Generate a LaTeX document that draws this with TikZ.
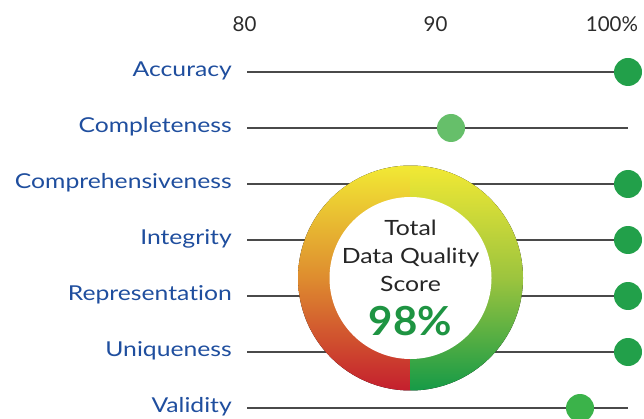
\documentclass[tikz,border=0pt]{standalone}
\usepackage{fontspec}
\setmainfont{Lato}[FakeStretch=1.205, Ligatures=NoCommon]
\newfontfamily\tickfont{Lato}[Ligatures=NoCommon]
\newfontfamily\titlefont{Lato}[FakeStretch=1.18, Ligatures=NoCommon]
\newfontfamily\pctfont{Lato}[FakeStretch=1.05]
\usetikzlibrary{calc}
\definecolor{lblblue}{HTML}{1F4E9E}
\definecolor{axisgray}{HTML}{2B2B2B}
\definecolor{linegray}{HTML}{4A4A4A}
\definecolor{dotdark}{HTML}{22A04A}
\definecolor{dotlight}{HTML}{66BF6A}
\definecolor{dotmid}{HTML}{3BB34A}
\definecolor{ryellow}{HTML}{F2E934}
\definecolor{rred}{HTML}{C41E2E}
\definecolor{rgreen}{HTML}{159A47}
\definecolor{rorange}{HTML}{DE8C2F}
\definecolor{rlime}{HTML}{9CC43E}
\definecolor{pctgreen}{HTML}{1E9442}
\definecolor{txtgray}{HTML}{262626}
\tikzset{
  lbl/.style={anchor=east, text=lblblue, font=\fontsize{20.5}{22}\selectfont, inner sep=0pt},
  tick/.style={text=axisgray, font=\tickfont\fontsize{20.5}{22}\selectfont, inner sep=0pt},
  track/.style={draw=linegray, line width=1.8pt},
  dot/.style={circle, minimum size=28pt, inner sep=0pt},
}
\begin{document}
\begin{tikzpicture}[x=1pt,y=-1pt]
\useasboundingbox (0,0) rectangle (644,419);
% axis labels
\node[tick] (t80) at (244.5,24.5) {80};
\node[tick] (t90) at (435.5,24.5) {90};
\node[tick] (t100) at (612,24.5) {100\%};
% rows
\foreach \name/\txt/\y in {acc/Accuracy/72, com/Completeness/128, cmp/Comprehensiveness/184, int/Integrity/240, rep/Representation/296, uni/Uniqueness/352, val/Validity/408}{
  \node[lbl] (\name) at (232,\y-1) {\txt};
  \coordinate (\name s) at (247,\y);
  \coordinate (\name e) at (628,\y);
  \draw[track] (\name s) -- (\name e);
}
% ring
\coordinate (c) at (410.5,278);
\begin{scope}
  \clip (c) circle (112.5);
  \fill[top color=ryellow, bottom color=rred, middle color=rorange] ($(c)+(-113,-113)$) rectangle ($(c)+(0,113)$);
  \fill[top color=ryellow, bottom color=rgreen, middle color=rlime] ($(c)+(0,-113)$) rectangle ($(c)+(113,113)$);
\end{scope}
\fill[white] (c) circle (81);
\node[text=txtgray, align=center, font=\titlefont\fontsize{21}{28}\selectfont, inner sep=0pt] (title) at (410.5,255.5) {Total\\Data Quality\\Score};
\node[text=pctgreen, font=\pctfont\fontsize{40}{44}\bfseries\selectfont, inner sep=0pt] (pct) at (410.5,321) {98\%};
% dots
\node[dot, fill=dotdark] (dacc) at (acce) {};
\node[dot, fill=dotlight] (dcom) at (451,128) {};
\node[dot, fill=dotdark] (dcmp) at (cmpe) {};
\node[dot, fill=dotdark] (dint) at (inte) {};
\node[dot, fill=dotdark] (drep) at (repe) {};
\node[dot, fill=dotdark] (duni) at (unie) {};
\node[dot, fill=dotmid] (dval) at (580,408) {};
\end{tikzpicture}
\end{document}
